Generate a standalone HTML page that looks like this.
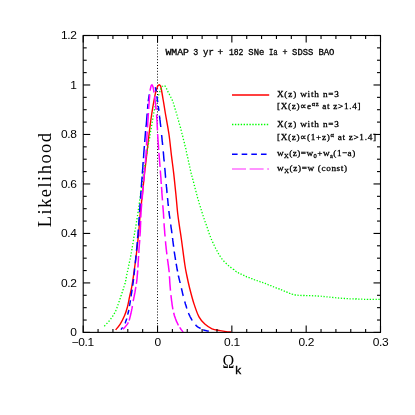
<!DOCTYPE html>
<html><head><meta charset="utf-8">
<style>
html,body{margin:0;padding:0;background:#fff;}
body{width:415px;height:415px;overflow:hidden;}
svg{display:block;will-change:transform;}
text{font-family:"Liberation Sans",sans-serif;fill:#000;}
.tk text{font-size:10.7px;letter-spacing:-0.3px;}
.lg text{font-family:"Liberation Serif",serif;font-weight:normal;font-size:9.2px;letter-spacing:0.5px;stroke:#000;stroke-width:0.3px;}
.sub{font-size:6.5px;}
.tt text{font-family:"Liberation Mono",monospace;font-weight:normal;font-size:8.8px;letter-spacing:0;stroke:#000;stroke-width:0.3px;}
</style></head><body>
<svg width="415" height="415" viewBox="0 0 415 415">
<rect width="415" height="415" fill="#fff"/>
<line x1="157.5" y1="36" x2="157.5" y2="332.40" stroke="#000" stroke-width="1" stroke-dasharray="1 1.9"/>
<g fill="none" stroke-linecap="butt" stroke-linejoin="round">
<path d="M115.60 329.90 C116.37 328.93 118.70 326.50 120.20 324.10 C121.70 321.70 123.38 318.38 124.60 315.50 C125.82 312.62 126.67 309.93 127.50 306.80 C128.33 303.67 128.88 300.07 129.60 296.70 C130.32 293.33 131.15 290.10 131.80 286.60 C132.45 283.10 132.73 281.13 133.50 275.70 C134.27 270.27 135.55 260.98 136.40 254.00 C137.25 247.02 137.95 240.67 138.60 233.80 C139.25 226.93 139.68 219.18 140.30 212.80 C140.92 206.42 141.60 202.00 142.30 195.50 C143.00 189.00 143.75 180.72 144.50 173.80 C145.25 166.88 146.02 160.80 146.80 154.00 C147.58 147.20 148.37 139.75 149.20 133.00 C150.03 126.25 150.78 120.03 151.80 113.50 C152.82 106.97 154.35 98.28 155.30 93.80 C156.25 89.32 156.90 88.10 157.50 86.60 C158.10 85.10 158.45 84.97 158.90 84.80 C159.35 84.63 159.83 85.07 160.20 85.60 C160.57 86.13 160.60 85.60 161.10 88.00 C161.60 90.40 162.50 95.83 163.20 100.00 C163.90 104.17 164.33 107.25 165.30 113.00 C166.27 118.75 167.98 127.47 169.00 134.50 C170.02 141.53 170.62 148.73 171.40 155.20 C172.18 161.67 172.93 166.58 173.70 173.30 C174.47 180.02 175.33 188.80 176.00 195.50 C176.67 202.20 177.12 208.32 177.70 213.50 C178.28 218.68 178.87 222.18 179.50 226.60 C180.13 231.02 180.62 233.68 181.50 240.00 C182.38 246.32 183.93 258.67 184.80 264.50 C185.67 270.33 185.90 271.08 186.70 275.00 C187.50 278.92 188.38 283.18 189.60 288.00 C190.82 292.82 192.43 299.08 194.00 303.90 C195.57 308.72 197.20 313.53 199.00 316.90 C200.80 320.27 202.63 322.12 204.80 324.10 C206.97 326.08 209.47 327.72 212.00 328.80 C214.53 329.88 217.67 330.13 220.00 330.60 C222.33 331.07 224.17 331.37 226.00 331.60 C227.83 331.83 230.17 331.93 231.00 332.00" stroke="#ff0000" stroke-width="1.4"/>
<path d="M104.3 326.3 L105.1 325.4 L105.2 325.3 M106.5 323.9 L107.4 323.0 M108.6 321.6 L109.4 320.7 L109.5 320.6 M110.6 319.2 L111.3 318.2 L111.4 318.1 M112.4 316.6 L113.1 315.6 L113.2 315.6 M114.1 314.0 L114.7 312.8 M115.6 311.2 L116.1 310.0 M116.8 308.2 L117.2 307.0 M117.8 305.3 L118.2 304.1 M118.8 302.3 L119.2 301.1 L119.2 301.0 M119.8 299.4 L120.2 298.2 L120.2 298.1 M120.8 296.4 L121.2 295.2 L121.2 295.1 M121.8 293.3 L122.2 292.2 L122.2 292.1 M122.8 290.4 L123.2 289.2 L123.2 289.1 M123.8 287.4 L124.2 286.2 M124.7 284.3 L125.1 283.2 L125.1 283.1 M125.5 281.3 L125.8 280.2 L125.8 280.1 M126.1 278.3 L126.4 277.0 L126.4 276.9 M126.7 275.1 L127.0 273.9 M127.4 272.0 L127.6 270.8 M128.0 269.0 L128.3 267.8 L128.3 267.7 M128.7 265.9 L128.9 264.7 L129.0 264.6 M129.3 262.8 L129.6 261.5 M130.0 259.7 L130.2 258.5 M130.6 256.6 L130.8 255.4 L130.8 255.3 M131.2 253.5 L131.4 252.3 M131.7 250.4 L131.9 249.2 L131.9 249.1 M132.2 247.3 L132.5 246.1 M132.8 244.2 L133.0 243.0 L133.0 242.9 M133.3 241.2 L133.5 239.9 L133.5 239.8 M133.8 238.0 L134.0 236.7 M134.3 234.9 L134.5 233.7 L134.5 233.6 M134.8 231.8 L135.0 230.5 M135.4 228.7 L135.6 227.5 L135.6 227.4 M135.9 225.6 L136.1 224.4 L136.1 224.3 M136.4 222.4 L136.6 221.2 M136.9 219.4 L137.1 218.1 L137.1 218.0 M137.4 216.2 L137.6 215.0 M137.9 213.1 L138.1 211.9 L138.1 211.8 M138.3 210.0 L138.5 208.8 L138.5 208.7 M138.8 206.9 L139.0 205.7 M139.2 203.8 L139.4 202.5 M139.6 200.7 L139.8 199.4 M140.1 197.5 L140.2 196.3 L140.2 196.2 M140.5 194.4 L140.6 193.2 L140.7 193.1 M140.9 191.3 L141.1 190.1 L141.1 190.0 M141.3 188.1 L141.5 186.9 L141.5 186.8 M141.7 185.1 L141.9 183.8 M142.2 182.0 L142.3 180.7 L142.4 180.6 M142.6 178.8 L142.8 177.6 M143.1 175.7 L143.3 174.4 M143.6 172.6 L143.8 171.4 L143.9 171.3 M144.2 169.5 L144.4 168.2 M144.7 166.4 L144.9 165.1 M145.2 163.3 L145.4 162.0 M145.7 160.2 L145.9 158.9 M146.2 157.0 L146.4 155.8 M146.7 153.9 L146.9 152.7 L146.9 152.6 M147.2 150.8 L147.4 149.6 L147.5 149.5 M147.8 147.7 L148.0 146.5 L148.0 146.4 M148.3 144.7 L148.6 143.4 L148.6 143.3 M148.9 141.5 L149.1 140.3 L149.1 140.2 M149.5 138.4 L149.7 137.2 L149.7 137.1 M150.0 135.3 L150.2 134.1 M150.5 132.2 L150.7 131.0 L150.8 130.9 M151.1 129.1 L151.3 127.9 M151.6 126.0 L151.8 124.9 L151.8 124.8 M152.1 122.9 L152.3 121.7 M152.6 119.8 L152.8 118.5 M153.1 116.7 L153.3 115.5 L153.3 115.4 M153.7 113.5 L153.9 112.3 M154.3 110.5 L154.5 109.2 M154.9 107.4 L155.2 106.2 M155.7 104.3 L156.0 103.1 M156.6 101.4 L157.0 100.2 L157.0 100.1 M157.6 98.3 L158.0 97.1 M158.6 95.4 L159.0 94.2 M159.6 92.3 L160.1 91.1 M160.6 89.5 L161.1 88.3 L161.1 88.2 M162.0 86.6 L162.9 85.8 L163.0 85.7 M164.6 85.6 L165.5 86.5 L165.6 86.6 M166.4 88.2 L166.9 89.4 M167.7 91.1 L168.2 92.2 L168.3 92.3 M169.1 93.8 L169.7 94.9 L169.8 95.0 M170.6 96.7 L171.1 97.7 L171.2 97.8 M172.0 99.5 L172.5 100.7 M173.1 102.4 L173.6 103.6 M174.1 105.4 L174.5 106.7 M175.0 108.4 L175.3 109.6 L175.4 109.7 M175.9 111.5 L176.2 112.7 M176.8 114.5 L177.1 115.7 M177.6 117.6 L178.0 118.8 M178.5 120.5 L178.8 121.7 L178.9 121.8 M179.3 123.6 L179.7 124.8 M180.2 126.6 L180.5 127.8 L180.5 127.9 M181.0 129.7 L181.3 130.9 M181.8 132.8 L182.1 134.0 M182.6 135.7 L182.9 137.0 M183.3 138.8 L183.6 140.1 M184.1 141.8 L184.4 143.1 L184.4 143.2 M184.9 144.9 L185.1 146.1 L185.2 146.2 M185.6 148.0 L185.9 149.2 L185.9 149.3 M186.3 151.1 L186.5 152.3 M186.9 154.2 L187.2 155.5 M187.6 157.2 L187.9 158.4 L187.9 158.5 M188.3 160.3 L188.5 161.5 L188.6 161.6 M188.9 163.4 L189.2 164.6 L189.2 164.7 M189.6 166.5 L189.9 167.7 M190.3 169.6 L190.6 170.8 M191.0 172.6 L191.3 173.8 L191.4 173.9 M191.8 175.6 L192.1 176.9 M192.6 178.7 L192.9 179.9 L192.9 180.0 M193.4 181.7 L193.7 182.9 L193.7 183.0 M194.2 184.8 L194.5 186.0 L194.5 186.1 M195.0 187.9 L195.3 189.1 M195.8 190.9 L196.1 192.1 L196.1 192.2 M196.6 194.0 L196.9 195.1 L196.9 195.2 M197.4 197.0 L197.7 198.2 L197.8 198.3 M198.3 200.0 L198.6 201.2 L198.6 201.3 M199.1 203.1 L199.5 204.3 M200.1 206.1 L200.5 207.4 M201.0 209.1 L201.4 210.3 M201.9 212.0 L202.3 213.2 L202.3 213.3 M202.9 215.1 L203.3 216.3 L203.3 216.3 M203.9 218.1 L204.3 219.3 M204.9 221.1 L205.3 222.3 M206.0 224.0 L206.4 225.2 M207.0 226.9 L207.4 228.1 L207.4 228.2 M208.0 230.0 L208.4 231.2 M209.0 233.0 L209.4 234.2 M210.1 236.0 L210.5 237.1 M211.2 238.9 L211.7 240.0 M212.5 241.7 L213.0 242.9 L213.0 243.0 M213.8 244.6 L214.4 245.8 M215.2 247.4 L215.7 248.5 L215.8 248.6 M216.7 250.3 L217.3 251.4 M218.1 253.0 L218.8 254.1 M219.7 255.7 L220.4 256.7 L220.5 256.8 M221.5 258.3 L222.3 259.3 L222.3 259.3 M223.5 260.8 L224.4 261.7 M225.7 263.0 L226.6 263.9 L226.7 264.0 M228.0 265.2 L229.0 266.0 M230.4 267.1 L231.4 267.9 M232.9 269.1 L233.9 269.8 L233.9 269.9 M235.4 271.1 L236.5 271.8 L236.6 271.8 M237.9 272.5 L239.0 273.1 L239.1 273.1 M240.5 273.8 L241.6 274.3 L241.7 274.4 M243.2 275.1 L244.4 275.7 M245.8 276.3 L246.9 276.8 L247.0 276.8 M248.5 277.4 L249.7 277.9 M251.1 278.5 L252.3 278.9 L252.4 279.0 M253.8 279.5 L255.0 280.0 L255.1 280.0 M256.6 280.5 L257.8 280.9 M259.4 281.4 L260.5 281.8 L260.6 281.8 M262.1 282.3 L263.2 282.7 L263.3 282.7 M264.8 283.3 L266.0 283.7 M267.5 284.3 L268.6 284.8 L268.7 284.8 M270.2 285.5 L271.3 285.9 L271.4 286.0 M272.9 286.6 L274.1 287.0 M275.6 287.6 L276.7 288.1 L276.8 288.1 M278.3 288.7 L279.5 289.1 L279.5 289.2 M281.0 289.7 L282.2 290.2 M283.7 290.8 L284.9 291.3 M286.3 291.9 L287.5 292.4 L287.6 292.5 M289.0 293.1 L290.2 293.5 L290.2 293.6 M291.7 294.1 L292.9 294.4 L293.0 294.5 M294.5 294.8 L295.8 295.0 L295.9 295.0 M297.4 295.2 L298.7 295.3 M300.3 295.4 L301.6 295.5 M303.2 295.5 L304.4 295.5 L304.6 295.6 M306.1 295.6 L307.4 295.6 M309.0 295.7 L310.3 295.7 M311.9 295.7 L313.2 295.8 M314.8 295.8 L316.0 295.9 L316.1 295.9 M317.7 296.0 L318.9 296.1 L319.0 296.1 M320.7 296.2 L321.8 296.3 M323.5 296.5 L324.7 296.6 M326.4 296.8 L327.6 296.9 M329.3 297.1 L330.5 297.2 M332.1 297.4 L333.3 297.5 L333.4 297.5 M335.1 297.7 L336.3 297.8 M337.9 297.9 L339.1 298.1 L339.2 298.1 M340.8 298.2 L342.1 298.3 M343.7 298.4 L344.9 298.5 L345.0 298.5 M346.6 298.6 L347.8 298.7 L347.9 298.7 M349.5 298.8 L350.7 298.8 M352.4 298.9 L353.7 298.9 M355.2 299.0 L356.5 299.0 L356.6 299.1 M358.2 299.1 L359.5 299.1 M361.1 299.2 L362.3 299.2 M364.0 299.3 L365.2 299.3 M366.8 299.3 L368.0 299.4 L368.2 299.4 M369.7 299.4 L371.0 299.4 M372.6 299.4 L373.8 299.4 L373.9 299.4 M375.6 299.3 L376.8 299.3 M378.4 299.3 L379.7 299.3 L379.7 299.3" stroke="#00ff00" stroke-width="1.3"/>
<path d="M121.0 329.6 L121.7 328.6 L122.4 327.6 L122.6 327.3 M125.0 323.4 L125.5 322.3 L125.9 321.1 L126.3 319.9 L126.7 318.7 L126.7 318.6 M127.7 314.7 L128.0 313.4 L128.3 312.2 L128.6 311.0 L128.8 309.9 M129.4 306.1 L129.7 304.9 L129.9 303.7 L130.1 302.5 L130.3 301.3 L130.4 300.3 M131.1 296.4 L131.2 295.2 L131.4 294.0 L131.6 292.8 L131.8 291.5 L132.0 290.3 L132.1 289.7 M132.7 285.8 L132.8 284.6 L133.0 283.4 L133.2 282.1 L133.3 280.9 L133.5 279.6 L133.5 279.1 M134.0 275.2 L134.1 274.0 L134.2 272.7 L134.4 271.5 L134.5 270.2 L134.6 268.9 L134.7 268.5 M135.3 263.2 L135.4 262.0 L135.5 260.7 L135.7 259.4 L135.8 258.2 L135.9 256.9 L136.0 255.7 L136.1 255.5 M136.5 250.7 L136.6 249.5 L136.8 248.3 L136.9 247.1 L137.0 245.8 L137.1 244.5 L137.2 243.2 L137.3 242.0 M137.6 238.2 L137.7 236.9 L137.9 235.6 L138.0 234.4 L138.0 233.2 L138.1 231.9 L138.2 230.6 L138.3 229.5 M138.6 225.6 L138.7 224.4 L138.8 223.2 L138.9 222.0 L138.9 220.8 L139.0 219.6 L139.1 218.4 L139.2 217.2 L139.2 217.0 M139.5 212.2 L139.6 211.0 L139.7 209.7 L139.8 208.5 L139.9 207.3 L140.0 206.1 L140.0 204.9 L140.1 203.7 L140.1 203.5 M140.5 198.7 L140.6 197.4 L140.7 196.1 L140.7 194.8 L140.8 193.6 L140.9 192.3 L141.0 191.1 L141.0 191.0 M141.3 187.0 L141.4 185.8 L141.5 184.5 L141.6 183.2 L141.7 181.9 L141.8 180.6 L141.9 179.4 L142.0 178.1 L142.1 176.8 L142.1 176.5 M142.3 173.6 L142.4 172.4 L142.5 171.2 L142.6 170.0 L142.7 168.8 L142.8 167.6 L142.9 166.4 L142.9 165.2 L143.0 164.0 L143.1 162.8 L143.2 162.0 M143.5 158.2 L143.6 156.9 L143.7 155.6 L143.7 154.4 L143.8 153.2 L143.9 151.9 L144.0 150.7 L144.1 149.5 L144.2 148.3 L144.3 147.0 L144.4 146.0 M144.7 142.0 L144.8 140.7 L144.9 139.5 L145.0 138.2 L145.1 137.0 L145.2 135.7 L145.3 134.5 L145.4 133.2 L145.5 131.9 L145.6 131.0 M146.0 127.0 L146.1 125.8 L146.3 124.5 L146.4 123.3 L146.5 122.1 L146.6 120.8 L146.7 119.6 L146.8 118.3 L146.9 117.0 L147.0 115.8 L147.1 114.5 L147.2 113.5 M147.5 108.8 L147.7 107.6 L147.8 106.3 L147.9 105.0 L148.0 103.9 M148.3 101.2 L148.4 100.0 L148.6 98.8 L148.8 97.5 L149.0 96.3 L149.2 95.1 L149.3 94.4 M155.2 87.2 L155.6 88.4 L155.8 89.6 L156.1 90.9 L156.2 91.5 M156.9 96.3 L157.0 97.5 L157.2 98.7 L157.4 100.0 L157.6 101.2 L157.7 102.1 M158.2 106.0 L158.4 107.2 L158.6 108.5 L158.7 109.7 L158.9 110.8 M159.5 115.6 L159.6 116.9 L159.8 118.1 L159.9 119.4 L160.1 120.6 L160.2 121.8 L160.3 123.0 L160.5 124.3 L160.6 125.5 L160.8 126.8 L160.8 127.0 M161.6 135.0 L161.8 136.3 L161.9 137.6 L162.0 138.8 L162.1 140.0 L162.2 141.2 L162.4 142.4 L162.5 143.6 L162.6 144.8 L162.6 145.0 M163.2 151.4 L163.4 152.7 L163.5 154.0 L163.6 155.3 L163.7 156.5 L163.8 157.8 L163.9 159.1 L164.1 160.4 L164.2 161.5 M164.7 167.8 L164.9 169.0 L165.0 170.3 L165.1 171.5 L165.2 172.7 L165.3 174.0 L165.4 175.2 L165.5 176.4 L165.6 177.6 L165.7 177.7 M166.2 184.0 L166.3 185.2 L166.4 186.4 L166.6 187.7 L166.7 188.9 L166.8 190.2 L166.9 191.4 L167.0 192.7 L167.1 193.0 M167.5 198.0 L167.7 199.3 L167.8 200.5 L167.9 201.8 L168.0 203.0 L168.1 204.2 L168.3 205.4 L168.3 206.0 M168.9 211.0 L169.0 212.3 L169.2 213.5 L169.3 214.7 L169.5 216.0 L169.7 217.2 L169.9 218.5 L169.9 218.7 M170.7 224.5 L170.9 225.7 L171.0 227.0 L171.2 228.2 L171.4 229.4 L171.6 230.6 L171.7 231.8 L171.9 233.0 L171.9 233.2 M172.5 238.0 L172.7 239.2 L172.8 240.4 L173.0 241.6 L173.1 242.8 L173.3 244.0 L173.4 245.2 L173.6 246.4 L173.6 246.7 M174.2 251.5 L174.4 252.7 L174.6 254.0 L174.8 255.2 L175.0 256.5 L175.2 257.7 L175.4 259.0 L175.5 260.0 M176.1 263.7 L176.4 264.9 L176.6 266.1 L176.8 267.4 L177.0 268.6 L177.2 269.8 L177.5 271.0 L177.5 271.4 M178.4 275.5 L178.6 276.8 L178.9 277.9 L179.2 279.2 L179.5 280.4 L179.8 281.6 L180.1 282.8 L180.1 283.0 M181.4 288.3 L181.7 289.5 L182.0 290.7 L182.3 291.9 L182.5 293.1 L182.8 294.2 L183.1 295.4 L183.3 296.0 M184.7 301.5 L185.1 302.7 L185.4 303.9 L185.8 305.1 L186.2 306.3 L186.5 307.5 L186.9 308.5 M188.5 313.0 L188.9 314.1 L189.5 315.3 L190.0 316.5 L190.6 317.6 L191.2 318.7 L191.8 319.8 L192.2 320.5 M195.5 324.9 L196.4 325.8 L197.4 326.6 L198.4 327.3 L199.5 327.9 L200.6 328.5 M203.2 329.8 L204.5 330.2 L205.7 330.5 L206.9 330.9 L208.1 331.1 L208.8 331.3" stroke="#0000ff" stroke-width="1.5"/>
<path d="M123.1 329.2 L123.9 328.3 L124.8 327.4 L125.6 326.4 L126.4 325.4 L127.2 324.4 L127.9 323.3 L128.3 322.4 M129.1 320.5 L129.5 319.3 L129.8 318.1 L130.1 316.9 L130.4 315.7 L130.7 314.4 L131.0 313.3 L131.2 312.1 L131.5 310.9 L131.7 309.6 L132.0 308.4 L132.2 307.1 L132.4 306.0 M133.2 301.2 L133.4 300.0 L133.7 298.7 L133.9 297.5 L134.2 296.2 L134.4 295.1 L134.6 293.9 L134.9 292.7 L135.1 291.5 L135.3 290.2 L135.5 289.0 L135.7 287.7 L135.8 286.8 M136.3 283.9 L136.5 282.7 L136.7 281.5 L136.8 280.2 L137.0 279.0 L137.1 277.8 L137.2 276.5 L137.3 275.3 L137.4 274.1 L137.5 272.8 L137.6 271.6 L137.7 270.4 M137.9 267.5 L138.0 266.3 L138.1 265.0 L138.1 263.7 L138.2 262.4 L138.3 261.1 L138.4 259.8 L138.4 258.5 L138.5 257.2 L138.6 256.0 M138.8 253.0 L138.9 251.7 L138.9 250.5 L139.0 249.3 L139.1 248.1 L139.2 246.8 L139.3 245.5 L139.4 244.3 L139.5 243.1 L139.6 241.9 L139.7 240.6 L139.7 240.0 M139.9 236.5 L140.0 235.3 L140.1 234.0 L140.2 232.8 L140.3 231.6 L140.3 230.3 L140.4 229.0 L140.4 227.8 L140.5 226.5 L140.5 225.3 L140.6 224.1 L140.6 222.9 L140.7 221.6 L140.7 221.0 M140.8 217.5 L140.8 216.2 L140.9 214.9 L141.0 213.7 L141.0 212.4 L141.1 211.2 L141.2 209.9 L141.3 208.6 L141.4 207.4 L141.5 206.1 L141.6 204.9 L141.7 203.7 L141.7 203.5 M142.1 199.5 L142.2 198.2 L142.3 196.9 L142.4 195.7 L142.5 194.5 L142.6 193.3 L142.7 192.0 L142.8 190.8 L142.9 189.6 L143.0 188.4 L143.1 187.1 L143.2 185.9 L143.3 185.5 M143.6 181.5 L143.7 180.3 L143.8 179.1 L143.9 177.8 L144.1 176.6 L144.2 175.4 L144.3 174.1 L144.4 172.9 L144.5 171.6 L144.6 170.4 L144.7 169.2 L144.8 167.9 L144.9 167.5 M145.2 163.5 L145.3 162.2 L145.5 161.0 L145.6 159.7 L145.7 158.4 L145.8 157.1 L145.9 155.9 L146.0 154.6 L146.0 153.4 L146.1 152.2 L146.2 150.9 L146.3 149.7 L146.3 149.5 M146.5 145.5 L146.5 144.3 L146.6 143.1 L146.7 141.9 L146.7 140.6 L146.8 139.3 L146.8 138.1 L146.9 136.8 L147.0 135.5 L147.0 134.3 L147.1 133.1 L147.2 131.9 L147.2 131.5 M147.5 127.5 L147.6 126.3 L147.7 125.0 L147.7 123.8 L147.8 122.5 L147.9 121.2 L148.0 120.0 L148.1 118.7 L148.2 117.4 L148.2 116.2 L148.3 115.0 L148.4 113.8 L148.4 113.0 M148.7 109.0 L148.7 107.8 L148.8 106.5 L148.9 105.2 L149.0 104.0 L149.1 102.7 L149.2 101.5 L149.3 100.3 L149.4 99.1 L149.5 97.8 L149.6 96.6 L149.7 95.4 L149.7 94.4 M150.1 90.6 L150.3 89.3 L150.6 88.1 L150.8 86.9 L151.2 85.6 L152.0 84.8 L152.6 85.8 L153.0 86.9 L153.3 88.2 L153.5 89.3 L153.7 90.5 L153.9 91.8 L154.1 92.5 M154.6 96.3 L154.8 97.6 L154.9 98.8 L155.1 100.0 L155.2 101.2 L155.4 102.4 L155.5 103.6 L155.6 104.9 L155.8 106.1 L155.9 107.4 L156.0 108.7 L156.2 109.8 M156.6 114.5 L156.7 115.8 L156.7 117.0 L156.8 118.2 L156.9 119.5 L157.0 120.8 L157.1 122.1 L157.1 123.3 L157.2 124.6 L157.2 125.9 L157.3 127.1 L157.4 128.4 L157.4 129.7 L157.5 130.3 M157.6 134.0 L157.7 135.3 L157.8 136.5 L157.9 137.7 L157.9 138.9 L158.0 140.1 L158.1 141.3 L158.2 142.6 L158.3 143.9 L158.4 145.1 L158.5 146.3 L158.5 147.6 L158.6 148.8 L158.7 149.9 M158.9 152.7 L159.0 154.0 L159.1 155.2 L159.2 156.5 L159.3 157.7 L159.4 158.9 L159.5 160.2 L159.6 161.4 L159.7 162.6 L159.8 163.9 L159.9 165.1 L160.0 166.4 L160.1 167.0 M160.3 170.5 L160.4 171.8 L160.5 173.0 L160.6 174.3 L160.7 175.5 L160.8 176.7 L160.9 177.9 L161.0 179.2 L161.0 180.4 L161.1 181.7 L161.2 182.9 L161.3 184.0 M161.5 186.9 L161.6 188.2 L161.7 189.4 L161.8 190.6 L161.8 191.9 L161.9 193.1 L162.0 194.3 L162.1 195.6 L162.2 196.9 L162.3 198.1 L162.4 199.4 L162.5 200.4 M162.8 205.2 L162.9 206.5 L163.0 207.7 L163.1 209.0 L163.2 210.2 L163.3 211.4 L163.4 212.7 L163.5 213.9 L163.6 215.2 L163.6 216.4 L163.7 217.6 L163.8 218.7 M164.1 223.2 L164.1 224.4 L164.2 225.7 L164.3 226.9 L164.4 228.2 L164.5 229.4 L164.6 230.7 L164.7 231.9 L164.7 233.2 L164.9 234.5 L165.0 235.7 L165.0 236.6 M165.5 241.3 L165.6 242.5 L165.7 243.8 L165.8 245.0 L166.0 246.3 L166.1 247.6 L166.2 248.8 L166.4 250.0 L166.5 251.3 L166.7 252.5 L166.8 253.8 L166.9 254.4 M167.5 258.9 L167.6 260.1 L167.8 261.4 L168.0 262.6 L168.1 263.8 L168.3 265.0 L168.5 266.3 L168.6 267.5 L168.8 268.8 L168.9 270.0 L169.1 271.2 L169.2 272.3 M169.4 276.2 L169.5 277.4 L169.6 278.6 L169.7 279.9 L169.7 281.1 L169.8 282.4 L169.9 283.7 L170.0 284.9 L170.1 286.1 L170.2 287.3 L170.3 288.5 L170.4 289.8 L170.5 290.6 M170.9 295.1 L171.1 296.3 L171.2 297.6 L171.4 298.9 L171.5 300.1 L171.7 301.4 L171.9 302.6 L172.0 303.8 L172.2 305.1 L172.4 306.4 L172.6 307.6 L172.8 308.8 L172.9 309.3 M173.7 312.8 L174.0 314.0 L174.3 315.2 L174.7 316.4 L175.1 317.6 L175.5 318.8 L176.0 320.0 L176.4 321.2 L177.0 322.3 L177.5 323.4 L178.1 324.6 L178.5 325.3 M179.7 327.3 L180.4 328.4 L181.1 329.5 L181.8 330.4 L182.6 331.4 L183.1 332.1" stroke="#ff00ff" stroke-width="1.5"/>
</g>
<g stroke="#000" stroke-width="1.1" fill="none">
<rect x="83.20" y="35.50" width="297.30" height="296.90"/>
<line x1="83.20" y1="332.40" x2="83.20" y2="325.40"/>
<line x1="83.20" y1="35.50" x2="83.20" y2="42.50"/>
<line x1="98.07" y1="332.40" x2="98.07" y2="328.90"/>
<line x1="98.07" y1="35.50" x2="98.07" y2="39.00"/>
<line x1="112.93" y1="332.40" x2="112.93" y2="328.90"/>
<line x1="112.93" y1="35.50" x2="112.93" y2="39.00"/>
<line x1="127.80" y1="332.40" x2="127.80" y2="328.90"/>
<line x1="127.80" y1="35.50" x2="127.80" y2="39.00"/>
<line x1="142.66" y1="332.40" x2="142.66" y2="328.90"/>
<line x1="142.66" y1="35.50" x2="142.66" y2="39.00"/>
<line x1="157.53" y1="332.40" x2="157.53" y2="325.40"/>
<line x1="157.53" y1="35.50" x2="157.53" y2="42.50"/>
<line x1="172.39" y1="332.40" x2="172.39" y2="328.90"/>
<line x1="172.39" y1="35.50" x2="172.39" y2="39.00"/>
<line x1="187.25" y1="332.40" x2="187.25" y2="328.90"/>
<line x1="187.25" y1="35.50" x2="187.25" y2="39.00"/>
<line x1="202.12" y1="332.40" x2="202.12" y2="328.90"/>
<line x1="202.12" y1="35.50" x2="202.12" y2="39.00"/>
<line x1="216.99" y1="332.40" x2="216.99" y2="328.90"/>
<line x1="216.99" y1="35.50" x2="216.99" y2="39.00"/>
<line x1="231.85" y1="332.40" x2="231.85" y2="325.40"/>
<line x1="231.85" y1="35.50" x2="231.85" y2="42.50"/>
<line x1="246.72" y1="332.40" x2="246.72" y2="328.90"/>
<line x1="246.72" y1="35.50" x2="246.72" y2="39.00"/>
<line x1="261.58" y1="332.40" x2="261.58" y2="328.90"/>
<line x1="261.58" y1="35.50" x2="261.58" y2="39.00"/>
<line x1="276.44" y1="332.40" x2="276.44" y2="328.90"/>
<line x1="276.44" y1="35.50" x2="276.44" y2="39.00"/>
<line x1="291.31" y1="332.40" x2="291.31" y2="328.90"/>
<line x1="291.31" y1="35.50" x2="291.31" y2="39.00"/>
<line x1="306.18" y1="332.40" x2="306.18" y2="325.40"/>
<line x1="306.18" y1="35.50" x2="306.18" y2="42.50"/>
<line x1="321.04" y1="332.40" x2="321.04" y2="328.90"/>
<line x1="321.04" y1="35.50" x2="321.04" y2="39.00"/>
<line x1="335.91" y1="332.40" x2="335.91" y2="328.90"/>
<line x1="335.91" y1="35.50" x2="335.91" y2="39.00"/>
<line x1="350.77" y1="332.40" x2="350.77" y2="328.90"/>
<line x1="350.77" y1="35.50" x2="350.77" y2="39.00"/>
<line x1="365.63" y1="332.40" x2="365.63" y2="328.90"/>
<line x1="365.63" y1="35.50" x2="365.63" y2="39.00"/>
<line x1="380.50" y1="332.40" x2="380.50" y2="325.40"/>
<line x1="380.50" y1="35.50" x2="380.50" y2="42.50"/>
<line x1="83.20" y1="332.40" x2="90.20" y2="332.40"/>
<line x1="380.50" y1="332.40" x2="373.50" y2="332.40"/>
<line x1="83.20" y1="320.03" x2="86.70" y2="320.03"/>
<line x1="380.50" y1="320.03" x2="377.00" y2="320.03"/>
<line x1="83.20" y1="307.66" x2="86.70" y2="307.66"/>
<line x1="380.50" y1="307.66" x2="377.00" y2="307.66"/>
<line x1="83.20" y1="295.29" x2="86.70" y2="295.29"/>
<line x1="380.50" y1="295.29" x2="377.00" y2="295.29"/>
<line x1="83.20" y1="282.92" x2="90.20" y2="282.92"/>
<line x1="380.50" y1="282.92" x2="373.50" y2="282.92"/>
<line x1="83.20" y1="270.55" x2="86.70" y2="270.55"/>
<line x1="380.50" y1="270.55" x2="377.00" y2="270.55"/>
<line x1="83.20" y1="258.17" x2="86.70" y2="258.17"/>
<line x1="380.50" y1="258.17" x2="377.00" y2="258.17"/>
<line x1="83.20" y1="245.80" x2="86.70" y2="245.80"/>
<line x1="380.50" y1="245.80" x2="377.00" y2="245.80"/>
<line x1="83.20" y1="233.43" x2="90.20" y2="233.43"/>
<line x1="380.50" y1="233.43" x2="373.50" y2="233.43"/>
<line x1="83.20" y1="221.06" x2="86.70" y2="221.06"/>
<line x1="380.50" y1="221.06" x2="377.00" y2="221.06"/>
<line x1="83.20" y1="208.69" x2="86.70" y2="208.69"/>
<line x1="380.50" y1="208.69" x2="377.00" y2="208.69"/>
<line x1="83.20" y1="196.32" x2="86.70" y2="196.32"/>
<line x1="380.50" y1="196.32" x2="377.00" y2="196.32"/>
<line x1="83.20" y1="183.95" x2="90.20" y2="183.95"/>
<line x1="380.50" y1="183.95" x2="373.50" y2="183.95"/>
<line x1="83.20" y1="171.58" x2="86.70" y2="171.58"/>
<line x1="380.50" y1="171.58" x2="377.00" y2="171.58"/>
<line x1="83.20" y1="159.21" x2="86.70" y2="159.21"/>
<line x1="380.50" y1="159.21" x2="377.00" y2="159.21"/>
<line x1="83.20" y1="146.84" x2="86.70" y2="146.84"/>
<line x1="380.50" y1="146.84" x2="377.00" y2="146.84"/>
<line x1="83.20" y1="134.47" x2="90.20" y2="134.47"/>
<line x1="380.50" y1="134.47" x2="373.50" y2="134.47"/>
<line x1="83.20" y1="122.10" x2="86.70" y2="122.10"/>
<line x1="380.50" y1="122.10" x2="377.00" y2="122.10"/>
<line x1="83.20" y1="109.72" x2="86.70" y2="109.72"/>
<line x1="380.50" y1="109.72" x2="377.00" y2="109.72"/>
<line x1="83.20" y1="97.35" x2="86.70" y2="97.35"/>
<line x1="380.50" y1="97.35" x2="377.00" y2="97.35"/>
<line x1="83.20" y1="84.98" x2="90.20" y2="84.98"/>
<line x1="380.50" y1="84.98" x2="373.50" y2="84.98"/>
<line x1="83.20" y1="72.61" x2="86.70" y2="72.61"/>
<line x1="380.50" y1="72.61" x2="377.00" y2="72.61"/>
<line x1="83.20" y1="60.24" x2="86.70" y2="60.24"/>
<line x1="380.50" y1="60.24" x2="377.00" y2="60.24"/>
<line x1="83.20" y1="47.87" x2="86.70" y2="47.87"/>
<line x1="380.50" y1="47.87" x2="377.00" y2="47.87"/>
<line x1="83.20" y1="35.50" x2="90.20" y2="35.50"/>
<line x1="380.50" y1="35.50" x2="373.50" y2="35.50"/>
</g>
<g class="tk">
<text transform="translate(82.70,346.4) scale(1.12,1)" text-anchor="middle">−0.1</text>
<text transform="translate(157.62,346.4) scale(1.12,1)" text-anchor="middle">0</text>
<text transform="translate(231.95,346.4) scale(1.12,1)" text-anchor="middle">0.1</text>
<text transform="translate(306.28,346.4) scale(1.12,1)" text-anchor="middle">0.2</text>
<text transform="translate(380.60,346.4) scale(1.12,1)" text-anchor="middle">0.3</text>
<text transform="translate(76.7,336.30) scale(1.12,1)" text-anchor="end">0</text>
<text transform="translate(76.7,286.82) scale(1.12,1)" text-anchor="end">0.2</text>
<text transform="translate(76.7,237.33) scale(1.12,1)" text-anchor="end">0.4</text>
<text transform="translate(76.7,187.85) scale(1.12,1)" text-anchor="end">0.6</text>
<text transform="translate(76.7,138.37) scale(1.12,1)" text-anchor="end">0.8</text>
<text transform="translate(76.7,88.88) scale(1.12,1)" text-anchor="end">1</text>
<text transform="translate(76.7,39.40) scale(1.12,1)" text-anchor="end">1.2</text>
</g>
<text transform="translate(51,227.2) rotate(-90)" textLength="94.3" lengthAdjust="spacing" style="font-family:'Liberation Serif',serif;font-size:18.6px;">Likelihood</text>
<text x="222.5" y="367.6" textLength="11.8" lengthAdjust="spacingAndGlyphs" style="font-family:'Liberation Serif',serif;font-size:18.8px;">Ω</text>
<text x="235.2" y="373.9" style="font-size:11.8px;stroke:#000;stroke-width:0.35px;">k</text>
<g class="lg">
<g class="tt">
<text x="165.5" y="54.9" textLength="23.5" lengthAdjust="spacingAndGlyphs">WMAP</text>
<text x="193.3" y="54.9" textLength="5.0" lengthAdjust="spacingAndGlyphs">3</text>
<text x="203.1" y="54.9" textLength="10.8" lengthAdjust="spacingAndGlyphs">yr</text>
<text x="217.6" y="54.9" textLength="5.6" lengthAdjust="spacingAndGlyphs">+</text>
<text x="228.9" y="54.9" textLength="14.6" lengthAdjust="spacingAndGlyphs">182</text>
<text x="248.3" y="54.9" textLength="16.0" lengthAdjust="spacingAndGlyphs">SNe</text>
<text x="269.0" y="54.9" textLength="8.7" lengthAdjust="spacingAndGlyphs">Ia</text>
<text x="282.6" y="54.9" textLength="5.0" lengthAdjust="spacingAndGlyphs">+</text>
<text x="292.1" y="54.9" textLength="21.3" lengthAdjust="spacingAndGlyphs">SDSS</text>
<text x="318.4" y="54.9" textLength="16.1" lengthAdjust="spacingAndGlyphs">BAO</text>
</g>
<text x="276.9" y="97.0" textLength="62.5" lengthAdjust="spacing">X(z) with n=3</text>
<text x="276.9" y="109.1" textLength="84.1" lengthAdjust="spacing">[X(z)∝e<tspan class="sub" dy="-3">αz</tspan><tspan dy="3"> at z&gt;1.4]</tspan></text>
<text x="276.9" y="126.6" textLength="62.5" lengthAdjust="spacing">X(z) with n=3</text>
<text x="276.9" y="139.7" textLength="99.6" lengthAdjust="spacing">[X(z)∝(1+z)<tspan class="sub" dy="-3">α</tspan><tspan dy="3"> at z&gt;1.4]</tspan></text>
<text x="276.9" y="155.9" textLength="78.8" lengthAdjust="spacing">w<tspan class="sub" dy="2">X</tspan><tspan dy="-2">(z)=w</tspan><tspan class="sub" dy="2">0</tspan><tspan dy="-2">+w</tspan><tspan class="sub" dy="2">a</tspan><tspan dy="-2">(1−a)</tspan></text>
<text x="276.9" y="171.0" textLength="70.7" lengthAdjust="spacing">w<tspan class="sub" dy="2">X</tspan><tspan dy="-2">(z)=w (const)</tspan></text>
</g>
<g fill="none">
<line x1="232" y1="95" x2="269.2" y2="95" stroke="#ff0000" stroke-width="1.5"/>
<line x1="232" y1="124.5" x2="269" y2="124.5" stroke="#00ff00" stroke-width="1.4" stroke-dasharray="1.4 1.5"/>
<line x1="232" y1="154.2" x2="269" y2="154.2" stroke="#0000ff" stroke-width="1.5" stroke-dasharray="5.6 4.05"/>
<line x1="232" y1="169" x2="269" y2="169" stroke="#ff70ff" stroke-width="1.3" stroke-dasharray="14 3.6"/>
</g>
</svg>
</body></html>
